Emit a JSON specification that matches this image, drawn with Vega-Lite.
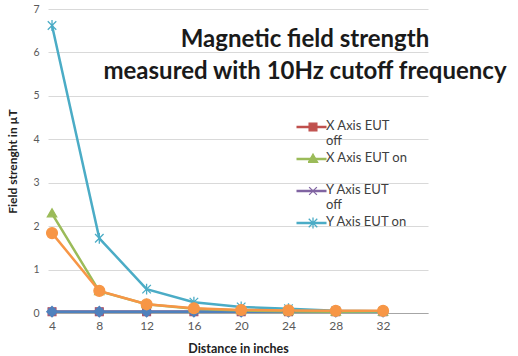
{
  "$schema": "https://vega.github.io/schema/vega-lite/v6.json",
  "width": 380,
  "height": 304,
  "autosize": {"type": "none"},
  "padding": {"left": 48, "top": 9, "right": 90, "bottom": 43},
  "background": "white",
  "config": {"font": "Lato", "view": {"stroke": null}},
  "title": {
    "text": ["Magnetic field strength", "measured with 10Hz cutoff frequency"],
    "fontSize": 24,
    "fontWeight": "bold",
    "font": "Lato",
    "color": "#1a1a1a",
    "anchor": "middle",
    "dx": 67,
    "dy": 84,
    "lineHeight": 32
  },
  "data": {
    "values": [
      {"distance": 4, "series": "X Axis EUT off", "value": 0.03},
      {"distance": 8, "series": "X Axis EUT off", "value": 0.03},
      {"distance": 12, "series": "X Axis EUT off", "value": 0.03},
      {"distance": 16, "series": "X Axis EUT off", "value": 0.03},
      {"distance": 20, "series": "X Axis EUT off", "value": 0.03},
      {"distance": 24, "series": "X Axis EUT off", "value": 0.03},
      {"distance": 28, "series": "X Axis EUT off", "value": 0.03},
      {"distance": 32, "series": "X Axis EUT off", "value": 0.03},
      {"distance": 4, "series": "Y Axis EUT off", "value": 0.03},
      {"distance": 8, "series": "Y Axis EUT off", "value": 0.03},
      {"distance": 12, "series": "Y Axis EUT off", "value": 0.03},
      {"distance": 16, "series": "Y Axis EUT off", "value": 0.03},
      {"distance": 20, "series": "Y Axis EUT off", "value": 0.03},
      {"distance": 24, "series": "Y Axis EUT off", "value": 0.03},
      {"distance": 28, "series": "Y Axis EUT off", "value": 0.03},
      {"distance": 32, "series": "Y Axis EUT off", "value": 0.03},
      {"distance": 4, "series": "Z Axis EUT off", "value": 0.03},
      {"distance": 8, "series": "Z Axis EUT off", "value": 0.03},
      {"distance": 12, "series": "Z Axis EUT off", "value": 0.03},
      {"distance": 16, "series": "Z Axis EUT off", "value": 0.03},
      {"distance": 20, "series": "Z Axis EUT off", "value": 0.03},
      {"distance": 24, "series": "Z Axis EUT off", "value": 0.03},
      {"distance": 28, "series": "Z Axis EUT off", "value": 0.03},
      {"distance": 32, "series": "Z Axis EUT off", "value": 0.03},
      {"distance": 4, "series": "X Axis EUT on", "value": 2.29},
      {"distance": 8, "series": "X Axis EUT on", "value": 0.5},
      {"distance": 12, "series": "X Axis EUT on", "value": 0.2},
      {"distance": 16, "series": "X Axis EUT on", "value": 0.1},
      {"distance": 20, "series": "X Axis EUT on", "value": 0.06},
      {"distance": 24, "series": "X Axis EUT on", "value": 0.04},
      {"distance": 28, "series": "X Axis EUT on", "value": 0.03},
      {"distance": 32, "series": "X Axis EUT on", "value": 0.03},
      {"distance": 4, "series": "Y Axis EUT on", "value": 6.62},
      {"distance": 8, "series": "Y Axis EUT on", "value": 1.72},
      {"distance": 12, "series": "Y Axis EUT on", "value": 0.55},
      {"distance": 16, "series": "Y Axis EUT on", "value": 0.25},
      {"distance": 20, "series": "Y Axis EUT on", "value": 0.14},
      {"distance": 24, "series": "Y Axis EUT on", "value": 0.1},
      {"distance": 28, "series": "Y Axis EUT on", "value": 0.05},
      {"distance": 32, "series": "Y Axis EUT on", "value": 0.04},
      {"distance": 4, "series": "Z Axis EUT on", "value": 1.84},
      {"distance": 8, "series": "Z Axis EUT on", "value": 0.51},
      {"distance": 12, "series": "Z Axis EUT on", "value": 0.2},
      {"distance": 16, "series": "Z Axis EUT on", "value": 0.11},
      {"distance": 20, "series": "Z Axis EUT on", "value": 0.07},
      {"distance": 24, "series": "Z Axis EUT on", "value": 0.06},
      {"distance": 28, "series": "Z Axis EUT on", "value": 0.05},
      {"distance": 32, "series": "Z Axis EUT on", "value": 0.05}
    ]
  },
  "encoding": {
    "x": {
      "field": "distance",
      "type": "quantitative",
      "scale": {"domain": [3.66, 35.8], "nice": false, "zero": false},
      "axis": {
        "title": "Distance in inches",
        "values": [4, 8, 12, 16, 20, 24, 28, 32],
        "grid": false,
        "ticks": false,
        "domainColor": "#A6A6A6",
        "domainWidth": 1,
        "labelFontSize": 12,
        "labelColor": "#595959",
        "labelPadding": 7,
        "titleFontSize": 12.5,
        "titleFontWeight": "bold",
        "titleColor": "#222222",
        "titlePadding": 11
      }
    },
    "y": {
      "field": "value",
      "type": "quantitative",
      "scale": {"domain": [0, 7], "nice": false},
      "axis": {
        "title": "Field strenght in µT",
        "values": [0, 1, 2, 3, 4, 5, 6, 7],
        "format": "d",
        "domain": false,
        "ticks": false,
        "gridColor": "#D9D9D9",
        "gridWidth": 1,
        "labelFontSize": 10.5,
        "labelColor": "#595959",
        "labelPadding": 9,
        "titleFontSize": 12,
        "titleFontWeight": "bold",
        "titleColor": "#222222",
        "titlePadding": 13
      }
    }
  },
  "layer": [
    {
      "mark": {"type": "line", "strokeWidth": 2.5},
      "encoding": {
        "color": {
          "field": "series",
          "type": "nominal",
          "scale": {
            "domain": ["X Axis EUT off", "X Axis EUT on", "Y Axis EUT off", "Y Axis EUT on", "Z Axis EUT off", "Z Axis EUT on"],
            "range": ["#C0504D", "#9BBB59", "#8064A2", "#4BACC6", "#4F81BD", "#F79646"]
          },
          "legend": {
            "title": null,
            "orient": "none",
            "legendX": 247,
            "legendY": 108,
            "padding": 0,
            "values": ["X Axis EUT off", "X Axis EUT on", "Y Axis EUT off", "Y Axis EUT on"],
            "symbolType": "stroke",
            "symbolSize": 900,
            "symbolStrokeWidth": 2.5,
            "clipHeight": 20,
            "gridAlign": "all",
            "rowPadding": 1,
            "labelFontSize": 13,
            "labelColor": "#404040",
            "labelOffset": -2,
            "labelExpr": "datum.label == 'X Axis EUT off' ? ['X Axis EUT', 'off'] : datum.label == 'Y Axis EUT off' ? ['Y Axis EUT', 'off'] : datum.label",
            "encode": {"labels": {"update": {"baseline": {"value": "top"}, "dy": {"value": -7}, "lineHeight": {"value": 15}}}}
          }
        }
      }
    },
    {
      "mark": {"type": "point", "filled": true, "size": 60, "opacity": 1, "strokeWidth": 1.3},
      "encoding": {
        "fill": {
          "field": "series",
          "type": "nominal",
          "scale": {"range": ["#C0504D", "#9BBB59", "#8064A2", "#4BACC6", "#4F81BD", "#F79646"]},
          "legend": {
            "title": null,
            "orient": "none",
            "legendX": 260,
            "legendY": 102,
            "padding": 0,
            "values": ["X Axis EUT off", "X Axis EUT on", "Y Axis EUT off", "Y Axis EUT on"],
            "symbolSize": 60,
            "symbolStrokeWidth": 1.3,
            "clipHeight": 32,
            "gridAlign": "all",
            "rowPadding": 0,
            "labelFontSize": 10,
            "labelColor": "rgba(0,0,0,0)"
          }
        },
        "stroke": {
          "field": "series",
          "type": "nominal",
          "scale": {"range": ["#C0504D", "#9BBB59", "#8064A2", "#4BACC6", "#4F81BD", "#F79646"]},
          "legend": {
            "title": null,
            "orient": "none",
            "legendX": 260,
            "legendY": 102,
            "padding": 0,
            "values": ["X Axis EUT off", "X Axis EUT on", "Y Axis EUT off", "Y Axis EUT on"],
            "symbolSize": 60,
            "symbolStrokeWidth": 1.3,
            "clipHeight": 32,
            "gridAlign": "all",
            "rowPadding": 0,
            "labelFontSize": 10,
            "labelColor": "rgba(0,0,0,0)"
          }
        },
        "shape": {
          "field": "series",
          "type": "nominal",
          "scale": {
            "range": [
              "M-1,-1H1V1H-1Z",
              "M0,-1.25L1.2,0.85L-1.2,0.85Z",
              "M-1,-1L1,1M-1,1L1,-1",
              "M-1.1,-1.1L1.1,1.1M-1.1,1.1L1.1,-1.1M0,-1.4L0,1.4",
              "M0,-1.35L1.35,0L0,1.35L-1.35,0Z",
              "M-1.4,0A1.4,1.4,0,1,0,1.4,0A1.4,1.4,0,1,0,-1.4,0Z"
            ]
          },
          "legend": {
            "title": null,
            "orient": "none",
            "legendX": 260,
            "legendY": 102,
            "padding": 0,
            "values": ["X Axis EUT off", "X Axis EUT on", "Y Axis EUT off", "Y Axis EUT on"],
            "symbolSize": 60,
            "symbolStrokeWidth": 1.3,
            "clipHeight": 32,
            "gridAlign": "all",
            "rowPadding": 0,
            "labelFontSize": 10,
            "labelColor": "rgba(0,0,0,0)"
          }
        }
      }
    }
  ]
}
